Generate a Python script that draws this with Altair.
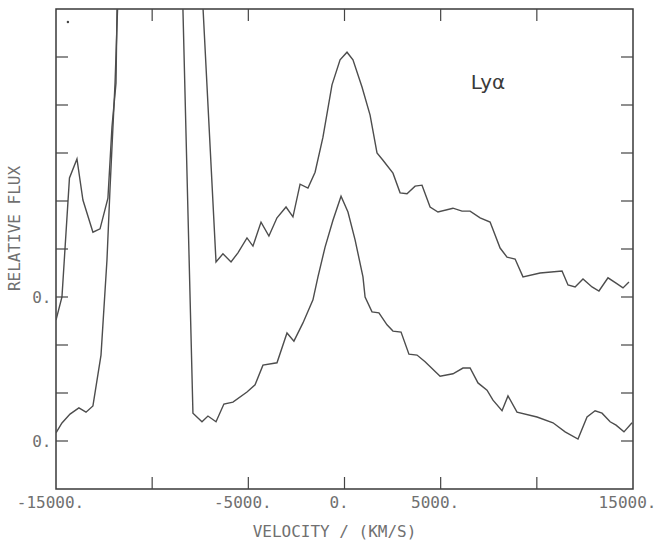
import altair as alt
import pandas as pd

# Lower profile (velocity km/s, relative flux in plot units; zero level at 1)
v_lo = [-15000, -14690, -14270, -13810, -13440, -13080, -12660, -12350, -12190, -11930,
        -11430, -8670, -7880, -7410, -7100, -6680, -6270, -5800, -5070, -4650,
        -4240, -3510, -2990, -2630, -2160, -1640, -1380, -1010, -600, -180,
        180, 550, 960, 1070, 1430, 1790, 2210, 2520, 2940, 3350,
        3770, 4190, 4970, 5640, 6160, 6530, 6940, 7410, 7720, 8190,
        8500, 8970, 10010, 10840, 11470, 12140, 12610, 13030, 13390, 13810,
        14120, 14530, 14950]
f_lo = [1.17, 1.375, 1.56, 1.69, 1.60, 1.73, 2.79, 4.77, 6.27, 8.46,
        14.35, 14.35, 1.58, 1.40, 1.52, 1.40, 1.77, 1.81, 2.02, 2.17,
        2.58, 2.63, 3.25, 3.08, 3.46, 3.94, 4.42, 5.04, 5.60, 6.10,
        5.77, 5.19, 4.42, 4.0, 3.69, 3.67, 3.42, 3.29, 3.27, 2.81,
        2.79, 2.65, 2.35, 2.40, 2.52, 2.52, 2.21, 2.06, 1.85, 1.63,
        1.94, 1.60, 1.50, 1.38, 1.19, 1.04, 1.50, 1.63, 1.58, 1.40,
        1.33, 1.19, 1.38]

# Upper profile (zero level at 4)
v_up = [-15000, -14690, -14300, -13910, -13600, -13080, -12710, -12300, -12090, -11880,
        -11680, -7910, -6680, -6320, -5900, -5540, -5070, -4760, -4340, -3930,
        -3510, -3040, -2680, -2310, -1900, -1530, -1120, -650, -230, 130,
        440, 910, 1330, 1690, 2000, 2520, 2890, 3250, 3670, 4030,
        4450, 4860, 5640, 6110, 6530, 7050, 7570, 8090, 8450, 8870,
        9280, 10170, 11310, 11620, 11990, 12400, 12870, 13230, 13700, 14120,
        14480, 14790]
f_up = [3.52, 4.0, 6.48, 6.875, 6.02, 5.35, 5.42, 6.06, 7.54, 8.46,
        14.35, 14.35, 4.73, 4.90, 4.73, 4.92, 5.23, 5.06, 5.56, 5.27,
        5.65, 5.875, 5.67, 6.35, 6.27, 6.60, 7.33, 8.42, 8.94, 9.10,
        8.94, 8.375, 7.79, 7.0, 6.85, 6.58, 6.17, 6.15, 6.31, 6.33,
        5.875, 5.77, 5.85, 5.79, 5.79, 5.65, 5.56, 5.02, 4.83, 4.79,
        4.42, 4.5, 4.54, 4.25, 4.21, 4.375, 4.21, 4.125, 4.40, 4.29,
        4.19, 4.31]

x_ticks = [-10000, -5000, 0, 5000, 10000]
y_ticks = [1, 2, 3, 4, 5, 6, 7, 8, 9]
x_label_values = [-15000, -5000, 0, 5000, 15000]
y_label_values = [1, 4]

label_text = ["Lyα"]
label_v = [7460]
label_f = [8.46]

dot_v = [-14380]
dot_f = [9.73]

XMIN, XMAX, YMIN, YMAX = -15000, 15000, 0, 10
TX = 625   # inward tick length in x units
TY = 0.25  # inward tick length in y units

lines = pd.DataFrame(
    [{"v": v, "f": f, "s": "lower"} for v, f in zip(v_lo, f_lo)]
    + [{"v": v, "f": f, "s": "upper"} for v, f in zip(v_up, f_up)]
)

tick_rows = []
for t in x_ticks:
    tick_rows.append({"x": t, "x2": t, "y": YMIN, "y2": YMIN + TY})
    tick_rows.append({"x": t, "x2": t, "y": YMAX, "y2": YMAX - TY})
for t in y_ticks:
    tick_rows.append({"x": XMIN, "x2": XMIN + TX, "y": t, "y2": t})
    tick_rows.append({"x": XMAX, "x2": XMAX - TX, "y": t, "y2": t})
ticks = pd.DataFrame(tick_rows)

labels = pd.DataFrame({"v": label_v, "f": label_f, "t": label_text})
dots = pd.DataFrame({"v": dot_v, "f": dot_f})

FONT = "DejaVu Sans Mono"
TXT = "#707070"

xscale = alt.Scale(domain=[XMIN, XMAX], nice=False, zero=False)
yscale = alt.Scale(domain=[YMIN, YMAX], nice=False, zero=False)

common_axis = dict(
    grid=False, domain=False, ticks=False,
    labelFont=FONT, labelFontSize=16, labelColor=TXT,
    titleFont=FONT, titleFontSize=16, titleColor=TXT, titleFontWeight="normal",
)

xaxis = alt.Axis(
    values=x_label_values,
    labelExpr="datum.value == 0 ? '0.' : (datum.value < 0 ? '-' : '') + abs(datum.value) + '.'",
    title="VELOCITY / (KM/S)",
    titleX=278, titleY=42, titleAlign="center", titleBaseline="middle",
    labelPadding=5, labelOffset=-6, labelFlush=False, labelOverlap=False,
    **common_axis,
)
yaxis = alt.Axis(
    values=y_label_values,
    labelExpr="'0.'",
    title="RELATIVE FLUX",
    titleX=-42, titleY=219, titleAlign="center", titleBaseline="middle",
    labelPadding=5,
    **common_axis,
)

X = alt.X("v:Q", scale=xscale, axis=xaxis)
Y = alt.Y("f:Q", scale=yscale, axis=yaxis)

line_layer = alt.Chart(lines).mark_line(
    color="#4d4d4d", strokeWidth=1.4, clip=True, interpolate="linear"
).encode(x=X, y=Y, detail="s:N", order="v:Q")

tick_layer = alt.Chart(ticks).mark_rule(color="#444", strokeWidth=1.2).encode(
    x=alt.X("x:Q", scale=xscale, axis=xaxis),
    x2="x2:Q",
    y=alt.Y("y:Q", scale=yscale, axis=yaxis),
    y2="y2:Q",
)

text_layer = alt.Chart(labels).mark_text(
    font="DejaVu Sans", fontSize=20, color="#3a3a3a", align="center", baseline="middle"
).encode(x=X, y=Y, text="t:N")

dot_layer = alt.Chart(dots).mark_point(
    filled=True, size=6, color="#444", opacity=1
).encode(x=X, y=Y)

chart = alt.layer(line_layer, tick_layer, text_layer, dot_layer).properties(
    width=577, height=480,
    autosize=alt.AutoSizeParams(type="none"),
    padding={"left": 56, "top": 9, "right": 25, "bottom": 54},
    background="white",
).configure_view(
    stroke="#3a3a3a", strokeWidth=1.5
)

chart.save("out.html", embed_options={"renderer": "svg", "actions": False})
